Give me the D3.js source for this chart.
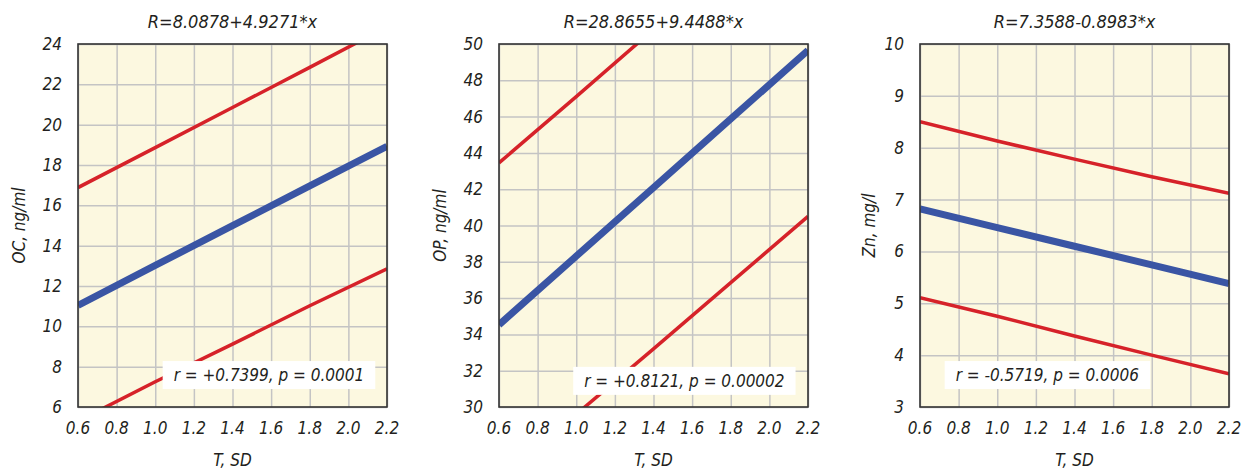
<!DOCTYPE html>
<html>
<head>
<meta charset="utf-8">
<script src="https://cdn.jsdelivr.net/npm/d3@7"></script>
<style>
  body { margin: 0; background: #fff; }
  svg text { font-family: "Liberation Sans Narrow", "DejaVu Sans Condensed", "Roboto Condensed", sans-serif; font-style: italic; fill: #231f20; }
</style>
</head>
<body>
<svg id="chart" width="1246" height="472"></svg>
<script>
// ---------------- data ----------------
const titles = ['R=8.0878+4.9271*x', 'R=28.8655+9.4488*x', 'R=7.3588-0.8983*x'];
const yLabels = ['OC, ng/ml', 'OP, ng/ml', 'Zn, mg/l'];
const notes = ['r = +0.7399, p = 0.0001', 'r = +0.8121, p = 0.00002', 'r = -0.5719, p = 0.0006'];

const xTicks = [0.6, 0.8, 1.0, 1.2, 1.4, 1.6, 1.8, 2.0, 2.2];
const yTicks = [
  [6, 8, 10, 12, 14, 16, 18, 20, 22, 24],
  [30, 32, 34, 36, 38, 40, 42, 44, 46, 48, 50],
  [3, 4, 5, 6, 7, 8, 9, 10],
];

// x positions where the lines were read
const xs = [0.6, 1.0, 1.4, 1.8, 2.2];
// regression line (blue)
const fitLine = [
  [11.04, 13.02, 14.99, 16.96, 18.93],
  [34.53, 38.31, 42.09, 45.87, 49.65],
  [6.82, 6.46, 6.10, 5.74, 5.38],
];
// upper band (red)
const upperBand = [
  [16.88, 18.86, 20.85, 22.84, 24.85],
  [43.45, 47.10, 50.80, 54.50, 58.20],
  [8.50, 8.13, 7.78, 7.44, 7.12],
];
// lower band (red)
const lowerBand = [
  [5.30, 7.25, 9.12, 11.02, 12.85],
  [25.90, 29.60, 33.20, 36.85, 40.50],
  [5.11, 4.75, 4.37, 4.00, 3.64],
];

// ---------------- layout ----------------
const svg = d3.select('#chart');
const plotLeft = [78, 499, 920];
const plotW = 309;
const plotTop = 44;
const plotH = 363;
const yTitleOffset = [59, 59, 51];
const notePos = [[0.618, 0.912], [0.60, 0.928], [0.412, 0.912]];

const RED = '#d62229';
const BLUE = '#3a55a4';

const x = d3.scaleLinear().domain([0.6, 2.2]).range([0, plotW]);

for (let i = 0; i < 3; i++) {
  const ticks = yTicks[i];
  const y = d3.scaleLinear()
    .domain([ticks[0], ticks[ticks.length - 1]])
    .range([plotH, 0]);

  const g = svg.append('g')
    .attr('transform', `translate(${plotLeft[i]},${plotTop})`);

  // background
  g.append('rect')
    .attr('width', plotW)
    .attr('height', plotH)
    .attr('fill', '#fcf8e0');

  // clip
  svg.append('clipPath').attr('id', 'clip' + i)
    .append('rect').attr('width', plotW).attr('height', plotH);

  // grid
  g.append('g')
    .call(d3.axisBottom(x).tickValues(xTicks).tickSize(plotH).tickFormat(''))
    .call(s => s.select('.domain').remove())
    .call(s => s.selectAll('line').attr('stroke', '#c4c4c4').attr('stroke-width', 1.5));
  g.append('g')
    .call(d3.axisLeft(y).tickValues(ticks).tickSize(-plotW).tickFormat(''))
    .call(s => s.select('.domain').remove())
    .call(s => s.selectAll('line').attr('stroke', '#c4c4c4').attr('stroke-width', 1.5));

  // lines
  const line = d3.line().x((d, k) => x(xs[k])).y(d => y(d));
  const lines = g.append('g').attr('clip-path', `url(#clip${i})`);
  lines.append('path').datum(upperBand[i])
    .attr('d', line).attr('fill', 'none').attr('stroke', RED).attr('stroke-width', 3.5);
  lines.append('path').datum(lowerBand[i])
    .attr('d', line).attr('fill', 'none').attr('stroke', RED).attr('stroke-width', 3.5);
  lines.append('path').datum(fitLine[i])
    .attr('d', line).attr('fill', 'none').attr('stroke', BLUE).attr('stroke-width', 7);

  // frame
  g.append('rect')
    .attr('width', plotW)
    .attr('height', plotH)
    .attr('fill', 'none')
    .attr('stroke', '#333')
    .attr('stroke-width', 1.6);

  // tick labels
  g.selectAll('.xl').data(xTicks).enter().append('text')
    .attr('x', d => x(d))
    .attr('y', plotH + 27)
    .attr('text-anchor', 'middle')
    .attr('font-size', '17px')
    .text(d => d.toFixed(1));
  g.selectAll('.yl').data(ticks).enter().append('text')
    .attr('x', -16)
    .attr('y', d => y(d) + 6)
    .attr('text-anchor', 'end')
    .attr('font-size', '17px')
    .text(d => d);

  // titles
  g.append('text')
    .attr('x', plotW / 2)
    .attr('y', -16)
    .attr('text-anchor', 'middle')
    .attr('font-size', '18px')
    .text(titles[i]);
  g.append('text')
    .attr('x', plotW / 2)
    .attr('y', plotH + 59)
    .attr('text-anchor', 'middle')
    .attr('font-size', '17px')
    .text('T, SD');
  g.append('text')
    .attr('transform', `translate(${-yTitleOffset[i] + 6},${plotH / 2}) rotate(-90)`)
    .attr('text-anchor', 'middle')
    .attr('font-size', '17px')
    .text(yLabels[i]);

  // r / p note
  const nx = notePos[i][0] * plotW;
  const ny = notePos[i][1] * plotH;
  const box = g.append('rect').attr('fill', '#fff');
  const t = g.append('text')
    .attr('x', nx)
    .attr('y', ny + 6)
    .attr('text-anchor', 'middle')
    .attr('font-size', '17px')
    .text(notes[i]);
  const bb = t.node().getBBox();
  box.attr('x', bb.x - 11).attr('y', ny - 14)
    .attr('width', bb.width + 22).attr('height', 28);
}
</script>
</body>
</html>
